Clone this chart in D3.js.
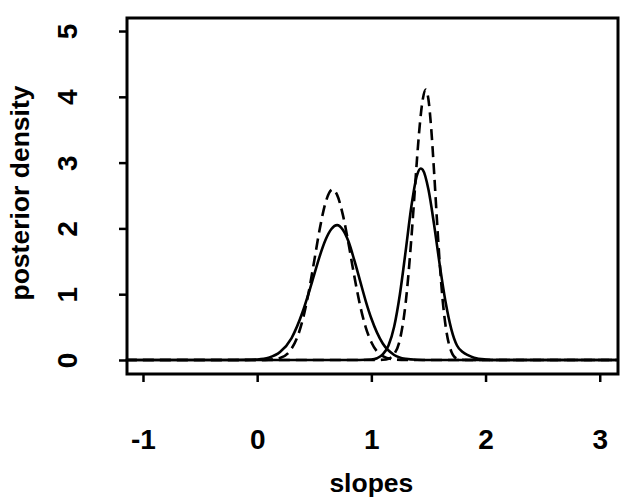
<!DOCTYPE html>
<html>
<head>
<meta charset="utf-8">
<script src="https://cdn.jsdelivr.net/npm/d3@7"></script>
<style>
  body { margin: 0; background: #fff; }
  text { font-family: "Liberation Sans", Arial, sans-serif; font-weight: bold; fill: #000; }
</style>
</head>
<body>
<div id="chart"></div>
<script>
// Curves as [slope, density] pairs
const solidLow = [
  [-1.15, 0], [-0.2, 0], [-0.1, 0.001], [0.0, 0.008], [0.1, 0.035], [0.2, 0.12],
  [0.3, 0.33], [0.4, 0.74], [0.45, 1.01], [0.5, 1.30], [0.55, 1.59], [0.6, 1.83],
  [0.65, 1.99], [0.7, 2.05], [0.75, 1.98], [0.8, 1.80], [0.85, 1.52], [0.9, 1.21],
  [0.95, 0.90], [1.0, 0.63], [1.1, 0.25], [1.2, 0.076], [1.3, 0.018], [1.4, 0.003],
  [1.5, 0], [3.16, 0]
];
const dashedLow = [
  [-1.15, 0], [0.0, 0], [0.1, 0.004], [0.2, 0.03], [0.3, 0.17], [0.35, 0.34],
  [0.4, 0.62], [0.45, 1.02], [0.5, 1.51], [0.55, 2.01], [0.6, 2.40], [0.66, 2.59],
  [0.7, 2.51], [0.75, 2.21], [0.8, 1.77], [0.85, 1.28], [0.9, 0.84], [0.95, 0.50],
  [1.0, 0.27], [1.05, 0.13], [1.1, 0.06], [1.2, 0.009], [1.3, 0], [3.16, 0]
];
const solidHigh = [
  [-1.15, 0], [0.9, 0], [1.0, 0.007], [1.05, 0.027], [1.1, 0.084], [1.15, 0.22],
  [1.2, 0.51], [1.25, 1.00], [1.3, 1.65], [1.35, 2.33], [1.4, 2.81], [1.433, 2.91],
  [1.45, 2.89], [1.5, 2.59], [1.55, 2.05], [1.6, 1.43], [1.65, 0.88], [1.7, 0.47],
  [1.75, 0.22], [1.8, 0.12], [1.85, 0.07], [1.9, 0.035], [2.0, 0.008], [2.1, 0],
  [3.16, 0]
];
const dashedHigh = [
  [-1.15, 0], [1.05, 0], [1.1, 0.003], [1.15, 0.02], [1.2, 0.09], [1.25, 0.31],
  [1.3, 0.86], [1.35, 1.84], [1.375, 2.44], [1.4, 3.06], [1.425, 3.59], [1.45, 3.96],
  [1.477, 4.11], [1.5, 3.96], [1.525, 3.50], [1.55, 2.84], [1.575, 2.11], [1.6, 1.44],
  [1.625, 0.90], [1.65, 0.52], [1.7, 0.13], [1.75, 0.02], [1.8, 0.002], [1.85, 0],
  [3.16, 0]
];

const xTicks = [-1, 0, 1, 2, 3];
const yTicks = [0, 1, 2, 3, 4, 5];

const width = 620, height = 497;
const box = { left: 127, right: 618, top: 18, bottom: 374 };

const svg = d3.select("#chart").append("svg")
  .attr("width", width)
  .attr("height", height);

svg.append("rect").attr("width", width).attr("height", height).attr("fill", "#fff");

const x = d3.scaleLinear().domain([-1.14, 3.16]).range([box.left, box.right]);
const y = d3.scaleLinear().domain([-0.213, 5.198]).range([box.bottom, box.top]);

// curves
const line = d3.line()
  .x(d => x(d[0]))
  .y(d => y(d[1]))
  .curve(d3.curveMonotoneX);

const curves = [
  { data: solidLow, dash: null },
  { data: solidHigh, dash: null },
  { data: dashedLow, dash: "11,6" },
  { data: dashedHigh, dash: "11,6" }
];

svg.append("g").selectAll("path")
  .data(curves)
  .enter()
  .append("path")
  .attr("d", d => line(d.data))
  .attr("fill", "none")
  .attr("stroke", "#000")
  .attr("stroke-width", 2.6)
  .attr("stroke-dasharray", d => d.dash);

// box
svg.append("rect")
  .attr("x", box.left).attr("y", box.top)
  .attr("width", box.right - box.left).attr("height", box.bottom - box.top)
  .attr("fill", "none")
  .attr("stroke", "#000")
  .attr("stroke-width", 3);

// x axis (plain hyphen for negatives, like the original)
const gx = svg.append("g")
  .attr("transform", `translate(0,${box.bottom})`)
  .call(d3.axisBottom(x).tickValues(xTicks).tickSize(8).tickPadding(47).tickFormat(d => String(d)));
gx.select(".domain").remove();
gx.selectAll("line").attr("stroke", "#000").attr("stroke-width", 2.5);
gx.selectAll("text").style("font-size", "28px").attr("font-family", null);

// y axis, labels turned sideways
const gy = svg.append("g")
  .attr("transform", `translate(${box.left},0)`)
  .call(d3.axisLeft(y).tickValues(yTicks).tickSize(8).tickFormat(d => String(d)));
gy.select(".domain").remove();
gy.selectAll("line").attr("stroke", "#000").attr("stroke-width", 2.5);
gy.selectAll("text")
  .attr("transform", "rotate(-90)")
  .attr("x", 0)
  .attr("y", -50)
  .attr("dy", null)
  .attr("text-anchor", "middle")
  .attr("font-family", null)
  .style("font-size", "28px");

// axis titles
svg.append("text")
  .attr("x", x(1))
  .attr("y", 492)
  .attr("text-anchor", "middle")
  .style("font-size", "26.5px")
  .text("slopes");

svg.append("text")
  .attr("transform", "translate(29,193) rotate(-90)")
  .attr("text-anchor", "middle")
  .style("font-size", "26.5px")
  .text("posterior density");
</script>
</body>
</html>
